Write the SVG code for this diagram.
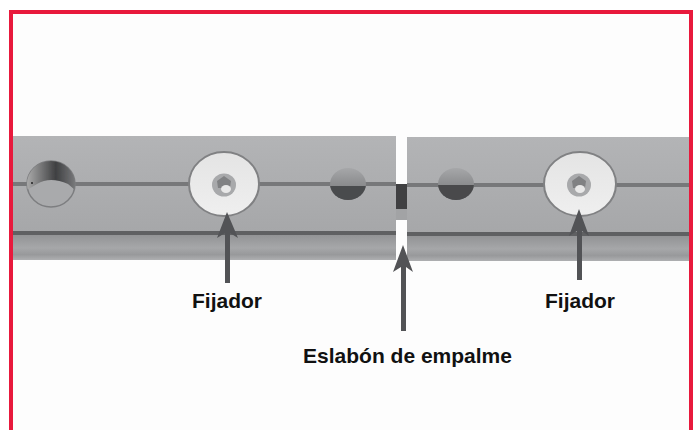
<svg xmlns="http://www.w3.org/2000/svg" width="697" height="430" viewBox="0 0 697 430">
<style>
.lbl{font-family:"Liberation Sans",Arial,sans-serif;font-weight:700;font-size:21px;fill:#111;text-anchor:middle}
.face{fill:url(#face)}
.skirt{fill:url(#skirt)}
.groove{fill:#77787a}
.edge{fill:#5f6062}
.washer{fill:url(#wash);stroke:#808183;stroke-width:2}
.arrow{fill:#525356}
</style>
<defs>
<filter id="soft" x="-5%" y="-5%" width="110%" height="110%"><feGaussianBlur stdDeviation="0.6"/></filter>
<linearGradient id="face" x1="0" y1="0" x2="0" y2="1"><stop offset="0" stop-color="#b3b4b6"/><stop offset="1" stop-color="#a6a7a9"/></linearGradient>
<linearGradient id="skirt" x1="0" y1="0" x2="0" y2="1"><stop offset="0" stop-color="#8f9092"/><stop offset=".55" stop-color="#a6a7a9"/><stop offset=".8" stop-color="#98999b"/><stop offset="1" stop-color="#aeafb1"/></linearGradient>
<linearGradient id="wash" x1="0" y1="0" x2="0" y2="1"><stop offset="0" stop-color="#e4e4e4"/><stop offset="1" stop-color="#efefef"/></linearGradient>
<linearGradient id="holeTop" x1="0" y1="0" x2="1" y2="0"><stop offset="0" stop-color="#aaaaaa"/><stop offset=".6" stop-color="#3f4042"/><stop offset="1" stop-color="#77787a"/></linearGradient>
<linearGradient id="dome" x1="0" y1="0" x2="0" y2="1"><stop offset="0" stop-color="#a6a7a9"/><stop offset="1" stop-color="#737476"/></linearGradient>
<clipPath id="h1"><ellipse cx="51" cy="184" rx="24" ry="23"/></clipPath>
<clipPath id="h2"><ellipse cx="348" cy="184" rx="18" ry="16"/></clipPath>
<clipPath id="h3"><ellipse cx="456" cy="184" rx="18" ry="16"/></clipPath>
</defs>
<rect width="697" height="430" fill="#fff"/>
<rect x="13" y="14" width="676" height="416" fill="#fdfdfd"/>
<g id="photo" filter="url(#soft)">
<g id="rail-left">
<rect class="face" x="13" y="136" width="383" height="97"/>
<rect class="skirt" x="13" y="233" width="383" height="27"/>
<rect class="groove" x="13" y="182" width="383" height="4"/>
<rect class="edge" x="13" y="231" width="383" height="4"/>
</g>
<g id="rail-right">
<rect class="face" x="407" y="137" width="282" height="97"/>
<rect class="skirt" x="407" y="234" width="282" height="27"/>
<rect class="groove" x="407" y="183" width="282" height="4"/>
<rect class="edge" x="407" y="232" width="282" height="4"/>
</g>
<g id="link">
<rect x="396" y="184" width="11" height="25" fill="#3f4042"/>
<rect x="396" y="209" width="11" height="11" fill="#a2a3a5"/>
</g>
<g id="hole-1">
<ellipse cx="51" cy="184" rx="24" ry="23" fill="#a9aaac" stroke="#7d7e80" stroke-width="1.500"/>
<g clip-path="url(#h1)"><path d="M27 161H75V190L68 184Q50 176 37 184L27 190Z" fill="url(#holeTop)"/></g>
<circle cx="32" cy="183" r="1" fill="#222"/>
</g>
<g id="fastener-left">
<ellipse class="washer" cx="224" cy="184" rx="35" ry="32"/>
<ellipse cx="224" cy="185" rx="12" ry="11.500" fill="#a8a9ab"/>
<path d="M217 181l7-5 7 5-1 7h-12z" fill="#808183"/>
<ellipse cx="226" cy="189" rx="5" ry="4" fill="#e8e8e8"/>
</g>
<g id="hole-2">
<ellipse cx="348" cy="184" rx="18" ry="16" fill="url(#dome)"/>
<g clip-path="url(#h2)"><rect x="330" y="186" width="36" height="16" fill="#4a4b4d"/></g>
</g>
<g id="hole-3">
<ellipse cx="456" cy="184" rx="18" ry="16" fill="url(#dome)"/>
<g clip-path="url(#h3)"><rect x="438" y="185" width="36" height="16" fill="#48494b"/></g>
</g>
<g id="fastener-right">
<ellipse class="washer" cx="580" cy="184" rx="36" ry="32"/>
<ellipse cx="579" cy="185" rx="12" ry="11.500" fill="#a8a9ab"/>
<path d="M572 181l7-5 7 5-1 7h-12z" fill="#808183"/>
<ellipse cx="580" cy="189" rx="5" ry="4" fill="#e8e8e8"/>
</g>
</g>
<g id="connectors">
<path class="arrow" d="M227 212L238 238L230 233V283H225V233L217 238Z"/>
<path class="arrow" d="M403 245L413 272L406 267V331H401V267L393 272Z"/>
<path class="arrow" d="M579 209L589 236L582 231V280H577V231L569 236Z"/>
</g>
<g id="labels">
<text class="lbl" x="227" y="308">Fijador</text>
<text class="lbl" x="580" y="308">Fijador</text>
<text class="lbl" x="407.500" y="363">Eslabón de empalme</text>
</g>
<g id="frame" fill="#e8193c">
<rect x="9" y="10" width="684" height="4"/>
<rect x="9" y="10" width="4" height="420"/>
<rect x="689" y="10" width="4" height="420"/>
</g>
</svg>
